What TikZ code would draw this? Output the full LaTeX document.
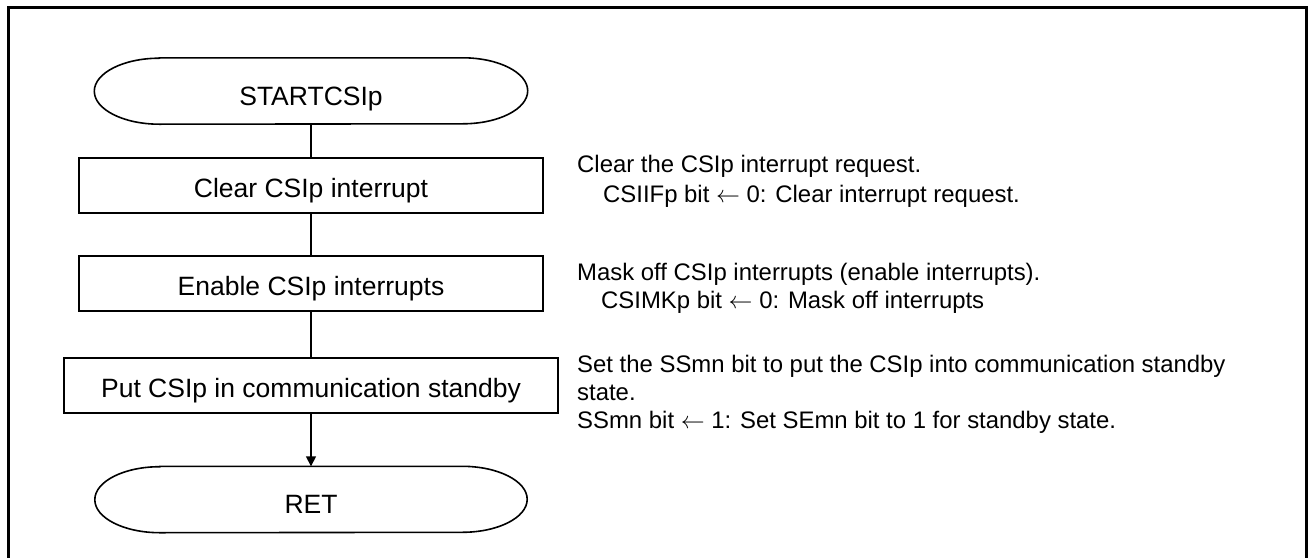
\documentclass[tikz,border=0pt]{standalone}
\usepackage{fix-cm}
\usepackage{fontspec}
\setmainfont{Liberation Sans}
\usetikzlibrary{arrows.meta}
\newcommand{\larr}{\ensuremath{\leftarrow}}
\begin{document}
\begin{tikzpicture}[x=1pt,y=-1pt,
  line/.style={line width=1.6pt},
  proc/.style={draw, line width=1.6pt, minimum height=55pt, inner sep=0pt,
    font=\fontsize{26.5}{31}\selectfont, text height=23.6pt, text depth=0pt},
  term/.style={minimum height=66pt, inner sep=0pt,
    font=\fontsize{26.5}{31}\selectfont, text height=28.6pt, text depth=0pt},
  termline/.style={line width=1.6pt},
  note/.style={anchor=base west, inner sep=0pt, font=\fontsize{23.9}{28}\selectfont}]

\useasboundingbox (0,0) rectangle (1309,557);
\draw[line width=3pt] (8,558) -- (8,7) -- (1306,7) -- (1306,558);

% nodes
\node[term, minimum width=433pt] (start) at (311,91) {STARTCSIp};
\node[proc, minimum width=464pt] (b1) at (311,185.5) {Clear CSIp interrupt};
\node[proc, minimum width=464pt] (b2) at (311,283.5) {Enable CSIp interrupts};
\node[proc, minimum width=494pt] (b3) at (311,385.5) {Put CSIp in communication standby};
\node[term, minimum width=432pt] (ret) at (311,499.5) {RET};

% terminal outlines
\foreach \n in {start,ret}{
  \draw[termline] ([xshift=65pt]\n.north west) -- ([xshift=-65pt]\n.north east)
    arc[start angle=90, end angle=-90, x radius=65pt, y radius=33pt]
    -- ([xshift=65pt]\n.south west)
    arc[start angle=270, end angle=90, x radius=65pt, y radius=33pt] -- cycle;
}

% connectors
\draw[line] (start.south) -- (b1.north);
\draw[line] (b1.south) -- (b2.north);
\draw[line] (b2.south) -- (b3.north);
\draw[line, -{Triangle[length=10pt, width=10pt]}] (b3.south) -- (ret.north);

% notes
\node[note] (n1a) at (577,172) {Clear the CSIp interrupt request.};
\node[note] (n1b) at (603,202) {CSIIFp bit \larr{} 0: Clear interrupt request.};
\node[note] (n2a) at (577,280) {Mask off CSIp interrupts (enable interrupts).};
\node[note] (n2b) at (601,308) {CSIMKp bit \larr{} 0: Mask off interrupts};
\node[note] (n3a) at (577,372) {Set the SSmn bit to put the CSIp into communication standby};
\node[note] (n3b) at (577,400) {state.};
\node[note] (n3c) at (577,428) {SSmn bit \larr{} 1: Set SEmn bit to 1 for standby state.};
\end{tikzpicture}
\end{document}
